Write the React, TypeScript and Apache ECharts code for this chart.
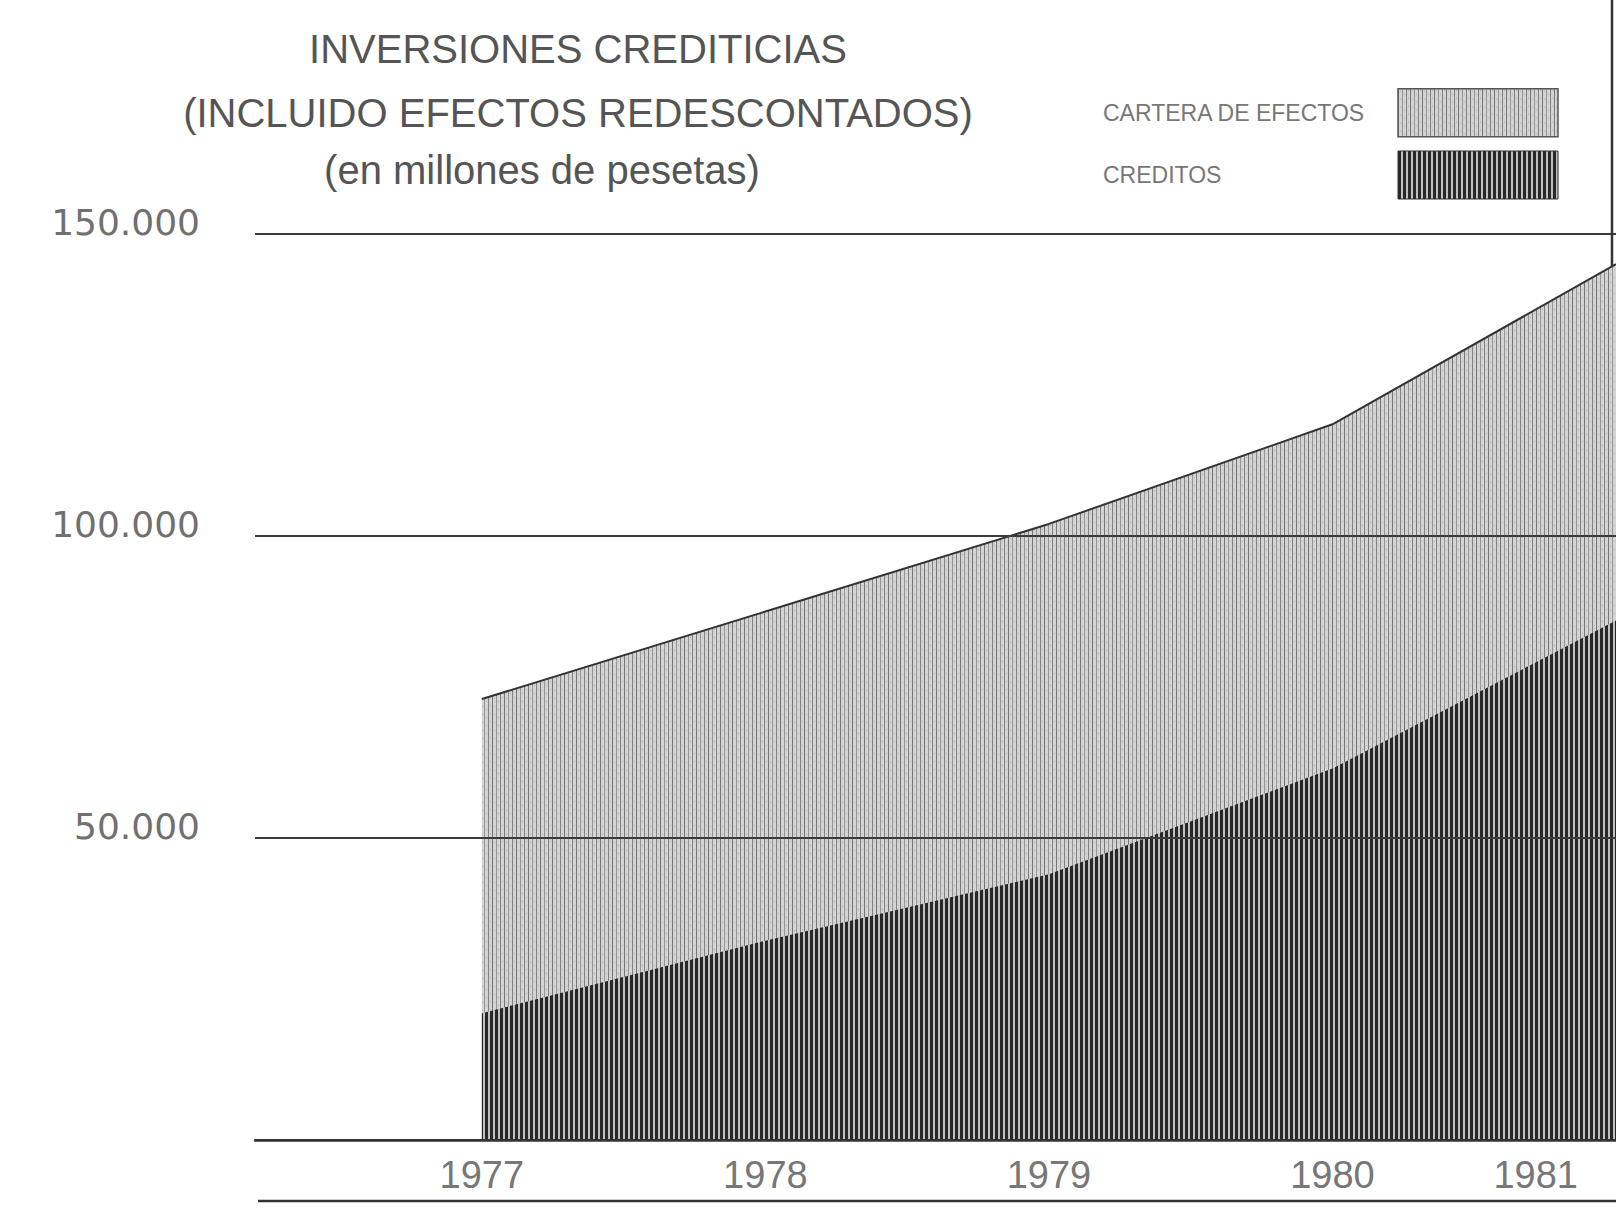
import React, { useEffect, useRef } from 'react';
import * as echarts from 'echarts';

// ---- data (millones de pesetas) ----
const years = [1977, 1978, 1979, 1980, 1981];
const creditos = [21000, 33000, 44000, 61500, 86000];
const carteraEfectos = [52000, 54500, 58000, 57000, 59000];
const yTickValues = [0, 50000, 100000, 150000];
const seriesNames = ['CARTERA DE EFECTOS', 'CREDITOS'];
const titleMain = 'INVERSIONES CREDITICIAS\n(INCLUIDO EFECTOS REDESCONTADOS)';
const titleUnits = '(en millones de pesetas)';

function makePattern(w: number, h: number, draw: (ctx: CanvasRenderingContext2D) => void) {
  const c = document.createElement('canvas');
  c.width = w;
  c.height = h;
  const ctx = c.getContext('2d') as CanvasRenderingContext2D;
  draw(ctx);
  return { image: c, repeat: 'repeat' as const, imageWidth: w, imageHeight: h };
}

export default function App() {
  const ref = useRef<HTMLDivElement>(null);

  useEffect(() => {
    if (!ref.current) return;
    const chart = echarts.init(ref.current, null, { renderer: 'svg', width: 1616, height: 1209 });

    const carteraPattern = makePattern(12, 8, (ctx) => {
      ctx.fillStyle = '#d4d4d4';
      ctx.fillRect(0, 0, 12, 8);
      ctx.fillStyle = '#767676';
      ctx.fillRect(0, 0, 1, 8);
      ctx.fillStyle = '#959595';
      ctx.fillRect(4, 0, 1, 8);
      ctx.fillStyle = '#828282';
      ctx.fillRect(8, 0, 1, 8);
      ctx.fillStyle = '#b0b0b0';
      ctx.fillRect(2, 2, 1, 1);
      ctx.fillRect(6, 5, 1, 1);
      ctx.fillRect(10, 1, 1, 1);
    });
    const creditosPattern = makePattern(5, 4, (ctx) => {
      ctx.fillStyle = '#c0c0c0';
      ctx.fillRect(0, 0, 5, 4);
      ctx.fillStyle = '#282828';
      ctx.fillRect(0, 0, 3, 4);
    });

    const font = 'Liberation Sans, Arial, sans-serif';
    const maxYear = years[years.length - 1];
    // top edge of the "cartera" band = créditos + cartera (drawn as an area from 0, créditos on top of it)
    const carteraTop = years.map((y, i) => [y, creditos[i] + carteraEfectos[i]]);

    chart.setOption({
      animation: false,
      backgroundColor: '#ffffff',
      title: [
        {
          text: titleMain,
          left: 578,
          top: 17,
          padding: 0,
          textAlign: 'center',
          textStyle: { fontFamily: font, fontSize: 40, fontWeight: 'normal', color: '#555', lineHeight: 64 },
        },
        {
          text: titleUnits,
          left: 542,
          top: 146,
          padding: 0,
          textAlign: 'center',
          textStyle: { fontFamily: font, fontSize: 40, fontWeight: 'normal', color: '#555', lineHeight: 48 },
        },
      ],
      legend: {
        orient: 'vertical',
        left: 1103,
        top: 88,
        padding: 0,
        align: 'right',
        itemWidth: 160,
        itemHeight: 48,
        itemGap: 13,
        selectedMode: false,
        formatter: (name: string) => `{t|${name}}`,
        textStyle: {
          rich: { t: { width: 290, align: 'left', fontFamily: font, fontSize: 23, color: '#777' } },
        },
        data: [
          { name: seriesNames[0], icon: 'rect', itemStyle: { color: carteraPattern, borderColor: '#555', borderWidth: 1.5 } },
          { name: seriesNames[1], icon: 'rect', itemStyle: { color: creditosPattern, borderColor: '#333', borderWidth: 1 } },
        ],
      },
      grid: { left: 255, right: 0, top: 234, bottom: 69, containLabel: false, outerBoundsMode: 'none' },
      xAxis: {
        type: 'value',
        min: 1976.2,
        max: maxYear,
        z: 3,
        axisLine: { show: true, onZero: true, lineStyle: { color: '#333', width: 2.5 } },
        axisTick: { show: false },
        splitLine: { show: false },
        axisLabel: {
          customValues: years,
          margin: 16,
          alignMaxLabel: 'right',
          fontFamily: font,
          fontSize: 38,
          color: '#777',
          formatter: (v: number) => (v === maxYear ? `{last|${v}}` : String(v)),
          rich: { last: { padding: [0, 38, 0, 0], fontFamily: font, fontSize: 38, color: '#777' } },
        },
      },
      yAxis: {
        type: 'value',
        min: yTickValues[0],
        max: yTickValues[yTickValues.length - 1],
        interval: yTickValues[1] - yTickValues[0],
        z: 3,
        axisLine: { show: false },
        axisTick: { show: false },
        splitLine: { show: true, lineStyle: { color: '#3a3a3a', width: 2 } },
        axisLabel: {
          margin: 55,
          verticalAlign: 'bottom',
          padding: [0, 0, -6, 0],
          fontFamily: 'DejaVu Sans, sans-serif',
          fontSize: 36,
          color: '#707070',
          formatter: (v: number) => (v === 0 ? '' : `${v / 1000}.000`),
        },
      },
      series: [
        {
          name: seriesNames[0],
          type: 'line',
          data: carteraTop,
          showSymbol: false,
          itemStyle: { color: '#aaa' },
          lineStyle: { width: 2, color: '#333' },
          areaStyle: { color: carteraPattern, opacity: 1 },
          emphasis: { disabled: true },
          z: 1,
        },
        {
          name: seriesNames[1],
          type: 'line',
          data: years.map((y, i) => [y, creditos[i]]),
          showSymbol: false,
          itemStyle: { color: '#444' },
          lineStyle: { width: 0, opacity: 0 },
          areaStyle: { color: creditosPattern, opacity: 1 },
          emphasis: { disabled: true },
          z: 2,
        },
      ],
      graphic: [
        { type: 'line', shape: { x1: 258, y1: 1201, x2: 1616, y2: 1201 }, style: { stroke: '#333', lineWidth: 2.5 } },
        { type: 'line', shape: { x1: 1612, y1: 0, x2: 1612, y2: 268 }, style: { stroke: '#333', lineWidth: 2.5 } },
      ],
    });

    return () => chart.dispose();
  }, []);

  return <div ref={ref} style={{ position: 'fixed', left: 0, top: 0, width: 1616, height: 1209 }} />;
}
